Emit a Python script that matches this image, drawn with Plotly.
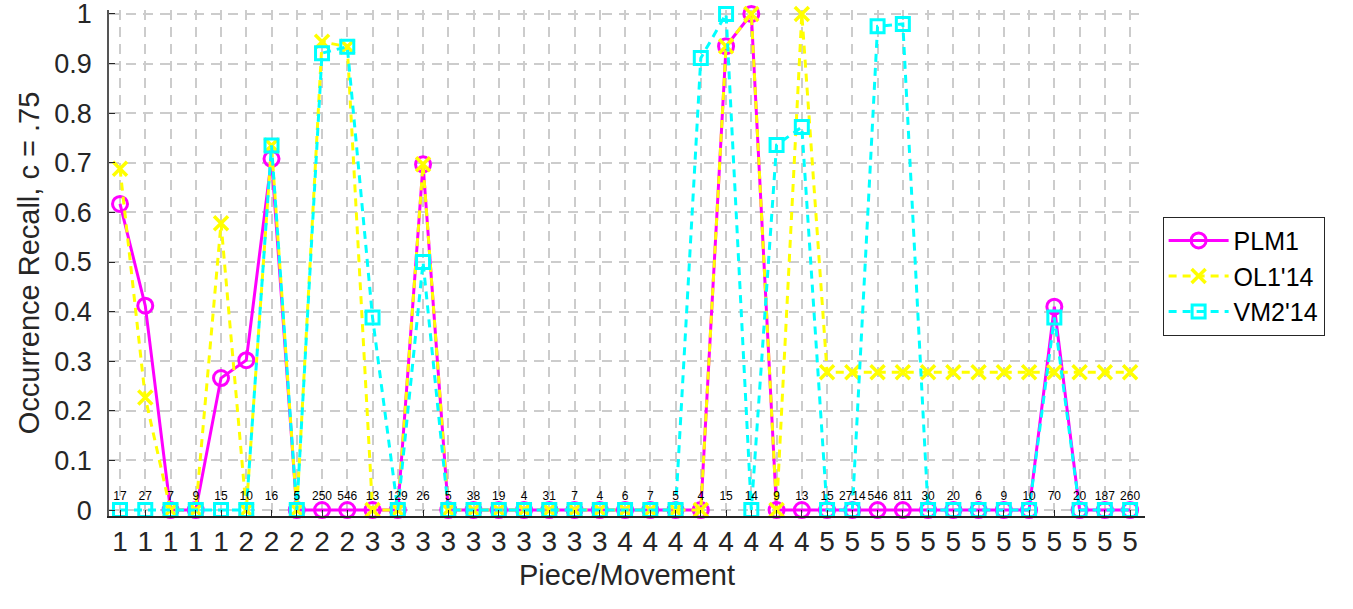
import plotly.graph_objects as go

positions = list(range(1, 42))
piece_labels = ["1", "1", "1", "1", "1",
                "2", "2", "2", "2", "2",
                "3", "3", "3", "3", "3", "3", "3", "3", "3", "3",
                "4", "4", "4", "4", "4", "4", "4", "4",
                "5", "5", "5", "5", "5", "5", "5", "5", "5", "5", "5", "5", "5"]
occurrence_counts = [17, 27, 7, 9, 15, 10, 16, 5, 250, 546,
                     13, 129, 26, 5, 38, 19, 4, 31, 7, 4,
                     6, 7, 5, 4, 15, 14, 9, 13,
                     15, 2714, 546, 811, 30, 20, 6, 9, 10, 70, 20, 187, 260]
plm1 = [0.617, 0.412, 0, 0, 0.266, 0.302, 0.708, 0, 0, 0,
        0, 0, 0.697, 0, 0, 0, 0, 0, 0, 0,
        0, 0, 0, 0, 0.935, 1.0, 0, 0,
        0, 0, 0, 0, 0, 0, 0, 0, 0, 0.41, 0, 0, 0]
ol1 = [0.688, 0.227, 0, 0, 0.578, 0, 0.735, 0, 0.944, 0.934,
       0, 0, 0.697, 0, 0, 0, 0, 0, 0, 0,
       0, 0, 0, 0, 0.935, 1.0, 0, 1.0,
       0.278, 0.278, 0.278, 0.278, 0.278, 0.278, 0.278, 0.278, 0.278, 0.278, 0.278, 0.278, 0.278]
vm2 = [0, 0, 0, 0, 0, 0, 0.735, 0, 0.921, 0.934,
       0.388, 0, 0.50, 0, 0, 0, 0, 0, 0, 0,
       0, 0, 0, 0.911, 1.0, 0, 0.736, 0.772,
       0, 0, 0.975, 0.98, 0, 0, 0, 0, 0, 0.388, 0, 0, 0]
label_y = [0.027] * len(positions)
y_ticks = [0, 0.1, 0.2, 0.3, 0.4, 0.5, 0.6, 0.7, 0.8, 0.9, 1]

FONT = "Liberation Sans, Arial, Helvetica, sans-serif"

fig = go.Figure()

fig.add_trace(go.Scatter(
    x=positions, y=plm1, name="PLM1", mode="lines+markers", cliponaxis=False,
    line=dict(color="#FF00FF", width=3),
    marker=dict(symbol="circle-open", size=15, color="#FF00FF", line=dict(width=3, color="#FF00FF"))))

fig.add_trace(go.Scatter(
    x=positions, y=ol1, name="OL1'14", mode="lines+markers", cliponaxis=False,
    line=dict(color="#FFFF00", width=3, dash="8px,6px"),
    marker=dict(symbol="x-thin-open", size=14, color="#FFFF00", line=dict(width=3.5, color="#FFFF00"))))

fig.add_trace(go.Scatter(
    x=positions, y=vm2, name="VM2'14", mode="lines+markers", cliponaxis=False,
    line=dict(color="#00FFFF", width=3, dash="8px,6px"),
    marker=dict(symbol="square-open", size=13, color="#00FFFF", line=dict(width=3, color="#00FFFF"))))

fig.add_trace(go.Scatter(
    x=positions, y=label_y, mode="text", text=[str(c) for c in occurrence_counts],
    textfont=dict(family=FONT, size=12, color="#000000"),
    showlegend=False, hoverinfo="skip"))

fig.update_layout(
    width=1353, height=609,
    margin=dict(l=109, r=208, t=10, b=93, autoexpand=False),
    paper_bgcolor="white", plot_bgcolor="white",
    font=dict(family=FONT, color="#262626"),
    showlegend=True,
    legend=dict(
        x=1.017, y=0.474, xanchor="left", yanchor="middle",
        bordercolor="#262626", borderwidth=1, bgcolor="white",
        font=dict(family=FONT, size=25, color="#000000"),
        itemwidth=60, tracegroupgap=0),
    xaxis=dict(
        range=[0.564, 41.59], tickmode="array", tickvals=positions, ticktext=piece_labels,
        automargin=False,
        showgrid=True, gridcolor="#cccccc", gridwidth=1.5, griddash="10px,7px",
        showline=True, linecolor="#262626", linewidth=1.5,
        ticks="inside", ticklen=6, tickcolor="#262626",
        tickfont=dict(family=FONT, size=28, color="#262626"),
        ticklabeloverflow="allow",
        title=dict(text="Piece/Movement", font=dict(family=FONT, size=29, color="#262626"), standoff=8),
        zeroline=False, mirror=False),
    yaxis=dict(
        range=[-0.012, 1.008], tickmode="array", tickvals=y_ticks,
        ticktext=[("%g" % v) for v in y_ticks],
        automargin=False,
        showgrid=True, gridcolor="#cccccc", gridwidth=1.5, griddash="10px,7px",
        showline=True, linecolor="#555555", linewidth=1.5,
        ticks="inside", ticklen=6, tickcolor="#262626",
        tickfont=dict(family=FONT, size=27, color="#262626"),
        ticklabelstandoff=10, ticklabeloverflow="allow",
        title=dict(text="Occurrence Recall, c = .75", font=dict(family=FONT, size=29, color="#262626"), standoff=6),
        zeroline=False, mirror=False),
)

fig.write_html("out.html", config={"displayModeBar": False},
               post_script="document.body.style.margin='0';")
